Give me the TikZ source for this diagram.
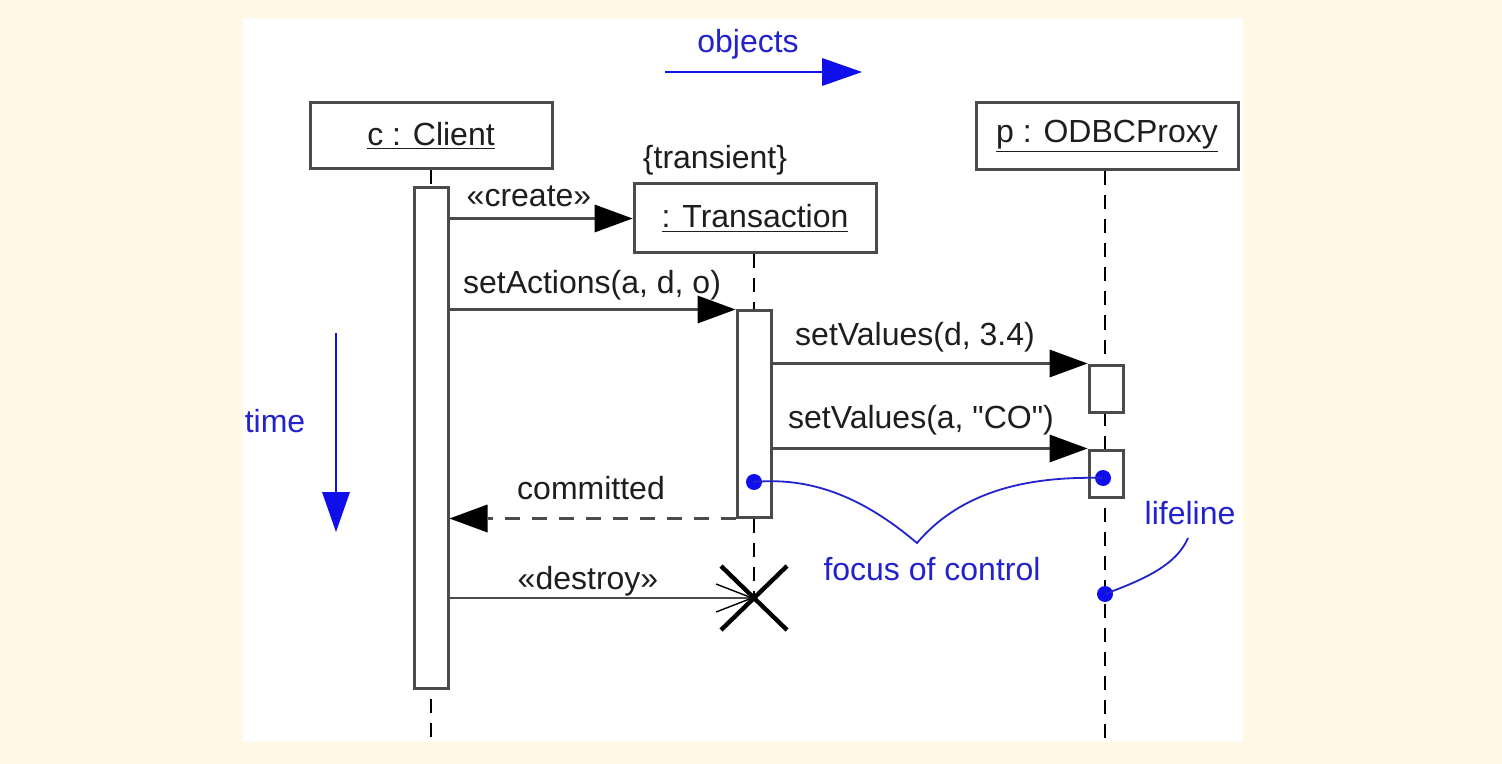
\documentclass[tikz,border=0pt]{standalone}
\usepackage{fontspec}
\setmainfont{Liberation Sans}
\font\plainqf="Liberation Sans" at 16pt
\usetikzlibrary{arrows.meta,calc}
\definecolor{bgc}{RGB}{255,249,229}
\definecolor{lgray}{RGB}{75,75,75}
\definecolor{tblack}{RGB}{30,30,30}
\definecolor{ublue}{RGB}{35,35,205}
\definecolor{ablue}{RGB}{15,15,235}
\tikzset{
  every node/.style={font=\fontsize{16}{19}\selectfont, text=tblack},
  objbox/.style={draw=lgray, line width=1.5pt, fill=white, inner sep=0pt},
  actbar/.style={draw=lgray, line width=1.5pt, fill=white, inner sep=0pt, minimum width=17pt},
  lifel/.style={draw=black, line width=0.9pt, dash pattern=on 7pt off 5pt},
  msg/.style={draw=lgray, line width=1.5pt, -{Triangle[length=19pt,width=14pt,color=black,line width=0pt]}},
  retmsg/.style={draw=lgray, line width=1.5pt, dash pattern=on 7.5pt off 6pt, -{Triangle[length=19pt,width=14pt,color=black,line width=0pt]}},
  dmsg/.style={draw=lgray, line width=1pt, -{Straight Barb[length=18pt,width=14pt,line width=0.7pt,color=black]}},
  lbl/.style={anchor=base, inner sep=0pt},
  blbl/.style={anchor=base, inner sep=0pt, text=ublue},
  barrow/.style={draw=ablue, line width=1.1pt, -{Triangle[length=20pt,width=14pt,color=ablue,line width=0pt]}},
  note/.style={draw=ublue, line width=0.9pt},
  bdot/.style={circle, fill=ablue, inner sep=0pt, minimum size=8pt},
}
\begin{document}
\begin{tikzpicture}[x=0.5pt,y=-0.5pt]
\useasboundingbox (0,0) rectangle (1502,764);
\fill[bgc] (0,0) rectangle (1502,764);
\fill[white] (243,18) rectangle (1243,742);

% object boxes
\node[objbox, minimum width=121pt, minimum height=33pt] (client) at (431,136) {\underline{c : Client}};
\node[objbox, minimum width=121pt, minimum height=34.5pt] (trans) at (755,218.5) {\underline{: Transaction}};
\node[objbox, minimum width=131pt, minimum height=33.5pt] (proxy) at (1107,136.5) {\underline{p : ODBCProxy}};
\node[lbl] (transient) at (715,169) {\{transient\}};

% lifeline end points
\coordinate (cend) at (431,742);
\coordinate (pend) at (1105,742);
\coordinate (xmark) at (754,598);

% lifelines
\draw[lifel] (client.south) -- (cend);
\draw[lifel] (trans.south -| xmark) -- (xmark);
\draw[lifel] (proxy.south -| pend) -- (pend);

% activation bars
\node[actbar, minimum height=250pt] (cbar) at (431,438) {};
\node[actbar, minimum height=103pt] (tbar) at (754,414) {};
\node[actbar, minimum height=23.5pt] (obar1) at (1106,388.5) {};
\node[actbar, minimum height=23.5pt] (obar2) at (1106,473.5) {};

% messages
\draw[msg] (cbar.east |- trans.west) -- (trans.west);
\node[lbl] (lcreate) at (529,207) {«create»};
\draw[msg] (cbar.east |- tbar.north west) -- (tbar.north west);
\node[lbl] (lsetact) at (592,293) {setActions(a, d, o)};
\draw[msg] (tbar.east |- obar1.north west) -- (obar1.north west);
\node[lbl] (lsv1) at (915,345) {setValues(d, 3.4)};
\draw[msg] (tbar.east |- obar2.north west) -- (obar2.north west);
\node[lbl] (lsv2) at (921,428) {\plainqf setValues(a, "CO")};
\draw[retmsg] (tbar.south west) -- (cbar.east |- tbar.south west);
\node[lbl] (lcomm) at (591,499) {committed};
\draw[dmsg] (cbar.east |- xmark) -- (xmark);
\node[lbl] (ldestroy) at (588,589) {«destroy»};

% destruction mark
\draw[black, line width=2.2pt] ($(xmark)+(-33,-32)$) -- ($(xmark)+(33,32)$);
\draw[black, line width=2.2pt] ($(xmark)+(-33,32)$) -- ($(xmark)+(33,-32)$);

% annotations
\coordinate (ostart) at (665,72);
\coordinate (oend) at (862,72);
\draw[barrow] (ostart) -- (oend);
\node[blbl] (lobj) at (748,53) {objects};
\coordinate (tstart) at (336,333);
\coordinate (tend) at (336,532);
\draw[barrow] (tstart) -- (tend);
\node[blbl] (ltime) at (275,432) {time};

\node[bdot] (d1) at (754,482) {};
\node[bdot] (d2) at (1103,478) {};
\node[bdot] (d3) at (1105,594) {};
\coordinate (vtx) at (917,543);
\coordinate (lfs) at (1188,538);
\draw[note] (d1.center) .. controls (820,476) and (872,505) .. (vtx) .. controls (962,490) and (1030,476) .. (d2.center);
\draw[note] (lfs) .. controls (1176,566) and (1142,580) .. (d3.center);
\node[blbl] (lfoc) at (932,580) {focus of control};
\node[blbl] (llife) at (1190,524) {lifeline};
\end{tikzpicture}
\end{document}
